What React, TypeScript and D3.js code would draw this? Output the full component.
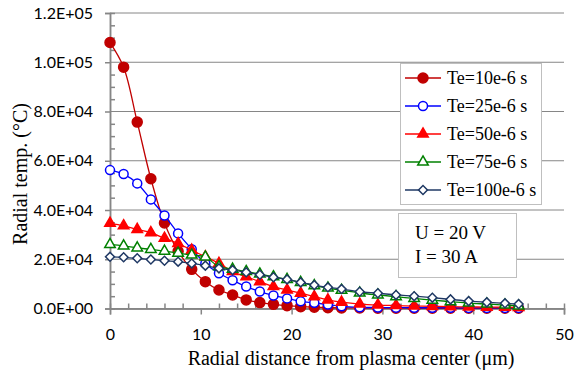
import { useEffect, useRef } from "react";
import * as d3 from "d3";

// radial distance (µm) of each sample point
const distance = [0, 1.5, 3, 4.5, 6, 7.5, 9, 10.5, 12, 13.5, 15, 16.5, 18, 19.5, 21, 22.5, 24, 25.5, 27.5, 29.5, 31.5, 33.5, 35.5, 37.5, 39.5, 41.5, 43.5, 45];

const te10 = [108000, 98000, 75700, 52700, 34700, 23200, 15900, 10900, 7500, 5500, 3500, 2400, 1700, 1150, 750, 500, 350, 250, 200, 150, 150, 100, 100, 100, 100, 100, 100, 100];
const te25 = [56200, 54600, 50800, 44300, 37800, 30500, 24100, 18300, 14300, 11500, 8900, 6900, 5300, 4100, 2900, 2300, 1600, 900, 500, 400, 350, 300, 300, 300, 250, 250, 250, 250];
const te50 = [34600, 33600, 32100, 30800, 28500, 26400, 23700, 21000, 18300, 15000, 12900, 10900, 8900, 7500, 6200, 4800, 3500, 2600, 1800, 1400, 1200, 1000, 850, 750, 650, 550, 500, 450];
const te75 = [26000, 25400, 24600, 24000, 23300, 22500, 21700, 20900, 17000, 16000, 15000, 14000, 12900, 11800, 10600, 9300, 8300, 7400, 6300, 5500, 4800, 4100, 3400, 2800, 2200, 1800, 1400, 1000];
const te100 = [21000, 20800, 20400, 19900, 19400, 19000, 18300, 17400, 16300, 15600, 14700, 13700, 12700, 11800, 10600, 9500, 8600, 7900, 6800, 6200, 5500, 5000, 4400, 3700, 3000, 2500, 2100, 1800];

const seriesNames = ["Te=10e-6 s", "Te=25e-6 s", "Te=50e-6 s", "Te=75e-6 s", "Te=100e-6 s"];
const yTicks = [0, 20000, 40000, 60000, 80000, 100000, 120000];
const xTicks = [0, 10, 20, 30, 40, 50];
const noteLines = ["U = 20 V", "I = 30 A"];

const series = [
  { name: seriesNames[0], values: te10, color: "#C00000", marker: "circle", filled: true },
  { name: seriesNames[1], values: te25, color: "#0000FF", marker: "circle", filled: false },
  { name: seriesNames[2], values: te50, color: "#FF0000", marker: "triangle", filled: true },
  { name: seriesNames[3], values: te75, color: "#008000", marker: "triangle", filled: false },
  { name: seriesNames[4], values: te100, color: "#1F3864", marker: "diamond", filled: false },
];

const SERIF = "'Liberation Serif', 'Times New Roman', serif";
const SANS = "Lato, 'Open Sans', sans-serif";
const AXIS = "#868686";

function sci(v: number) {
  if (v === 0) return "0.0E+00";
  const [m, e] = d3.format(".1e")(v).split("e");
  const n = +e;
  return `${m}E${n < 0 ? "-" : "+"}${String(Math.abs(n)).padStart(2, "0")}`;
}

function drawMarker(g: any, kind: string, color: string, filled: boolean) {
  if (kind === "circle") {
    g.append("circle").attr("r", filled ? 5 : 4.5);
  } else if (kind === "triangle") {
    g.append("path").attr("d", d3.symbol(d3.symbolTriangle, 48)());
  } else {
    g.append("path").attr("d", d3.symbol(d3.symbolSquare, 40)()).attr("transform", "rotate(45)");
  }
  g.selectAll("circle,path")
    .attr("fill", filled ? color : "#fff")
    .attr("stroke", color)
    .attr("stroke-width", 1.5);
}

export default function App() {
  const svgRef = useRef<SVGSVGElement>(null);

  useEffect(() => {
    document.body.style.margin = "0";
    if (!svgRef.current) return;
    const svg = d3.select(svgRef.current);
    svg.selectAll("*").remove();

    const x = d3.scaleLinear().domain([0, 50]).range([110, 564]);
    const y = d3.scaleLinear().domain([0, 120000]).range([308.5, 13]);

    // grid
    svg.append("g")
      .selectAll("line")
      .data(yTicks)
      .join("line")
      .attr("x1", x(0)).attr("x2", x(50))
      .attr("y1", d => y(d)).attr("y2", d => y(d))
      .attr("stroke", AXIS).attr("stroke-width", 1);

    // y axis
    const yAxis = svg.append("g").attr("transform", `translate(${x(0)},0)`);
    yAxis.call(d3.axisLeft(y).tickValues(yTicks).tickSize(5).tickPadding(12).tickFormat(d => sci(+d)));
    yAxis.call(g => g.append("g").call(d3.axisRight(y).tickValues(d3.range(0, 120001, 5000).filter(v => v % 20000 !== 0)).tickSize(5).tickFormat(() => "")));
    yAxis.selectAll("path").attr("stroke", AXIS).attr("stroke-width", 1.5);
    yAxis.selectAll("line").attr("stroke", AXIS).attr("stroke-width", 1.5);
    yAxis.selectAll("text").attr("font-family", SANS).attr("font-size", 16).attr("fill", "#000");

    // x axis
    const xAxis = svg.append("g").attr("transform", `translate(0,${y(0)})`);
    xAxis.call(d3.axisBottom(x).tickValues(xTicks).tickSize(6).tickPadding(14).tickFormat(d3.format("d")));
    xAxis.call(g => g.append("g").call(d3.axisTop(x).tickValues(d3.range(0, 51, 2).filter(v => v % 10 !== 0)).tickSize(5).tickFormat(() => "")));
    xAxis.selectAll("path").attr("stroke", AXIS).attr("stroke-width", 1.5);
    xAxis.selectAll("line").attr("stroke", AXIS).attr("stroke-width", 1.5);
    xAxis.selectAll("text").attr("font-family", SANS).attr("font-size", 16).attr("fill", "#000");

    // titles
    svg.append("text")
      .attr("x", 351).attr("y", 365)
      .attr("text-anchor", "middle")
      .attr("font-family", SERIF).attr("font-size", 20)
      .text("Radial distance from plasma center (μm)");
    svg.append("text")
      .attr("transform", "translate(27,174) rotate(-90)")
      .attr("text-anchor", "middle")
      .attr("font-family", SERIF).attr("font-size", 20)
      .text("Radial temp. (°C)");

    // series
    const line = d3.line<number>()
      .x((_, i) => x(distance[i]))
      .y(d => y(d))
      .curve(d3.curveCatmullRom.alpha(0.5));

    series.forEach(s => {
      const g = svg.append("g");
      g.append("path")
        .attr("d", line(s.values))
        .attr("fill", "none")
        .attr("stroke", s.color)
        .attr("stroke-width", 1.3);
      s.values.forEach((v, i) => {
        const m = g.append("g").attr("transform", `translate(${x(distance[i])},${y(v)})`);
        drawMarker(m, s.marker, s.color, s.filled);
      });
    });

    // legend
    const lg = svg.append("g");
    lg.append("rect")
      .attr("x", 400.5).attr("y", 63.5).attr("width", 141).attr("height", 141)
      .attr("fill", "#fff").attr("stroke", "#BFBFBF").attr("stroke-width", 1);
    series.forEach((s, i) => {
      const cy = 78 + i * 28;
      lg.append("line")
        .attr("x1", 405).attr("x2", 441).attr("y1", cy).attr("y2", cy)
        .attr("stroke", s.color).attr("stroke-width", 1.3);
      const m = lg.append("g").attr("transform", `translate(423,${cy})`);
      drawMarker(m, s.marker, s.color, s.filled);
      lg.append("text")
        .attr("x", 447).attr("y", cy + 6)
        .attr("font-family", SERIF).attr("font-size", 18)
        .text(s.name);
    });

    // note box
    const nb = svg.append("g");
    nb.append("rect")
      .attr("x", 398.5).attr("y", 213.5).attr("width", 118).attr("height", 64)
      .attr("fill", "#fff").attr("stroke", "#BFBFBF").attr("stroke-width", 1);
    noteLines.forEach((t, i) => {
      nb.append("text")
        .attr("x", 415).attr("y", 239 + i * 24)
        .attr("font-family", SERIF).attr("font-size", 19)
        .text(t);
    });
  }, []);

  return <svg ref={svgRef} width={576} height={376} style={{ display: "block", background: "#fff" }} />;
}
